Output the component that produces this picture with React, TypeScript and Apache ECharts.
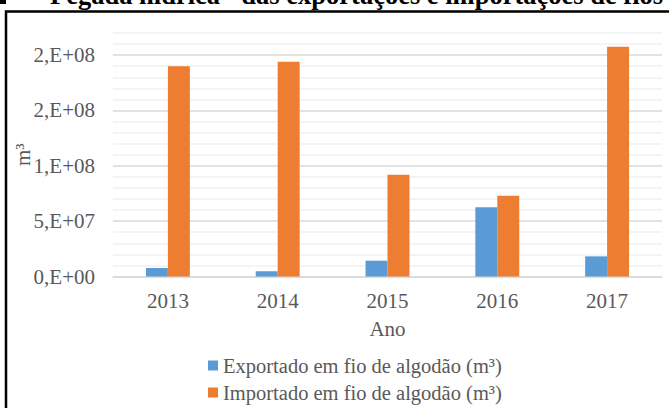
import React, { useEffect, useRef } from "react";
import * as echarts from "echarts";

const years = ["2013", "2014", "2015", "2016", "2017"];
const exportado = [7.7e6, 4.7e6, 14.3e6, 62.5e6, 18.2e6];
const importado = [190e6, 194e6, 92e6, 73e6, 207.5e6];
const seriesNames = ["Exportado em fio de algodão (m³)", "Importado em fio de algodão (m³)"];
const titleText = "Pegada hídrica\" das exportações e importações de fios";

const FONT = "'Liberation Serif', 'Times New Roman', serif";
const TXT = "#595959";

function fmtSci(v: number): string {
  if (v === 0) return "0,E+00";
  let e = Math.floor(Math.log10(v));
  let m = Math.round(v / Math.pow(10, e));
  if (m >= 10) {
    m = 1;
    e += 1;
  }
  return `${m},E+${String(e).padStart(2, "0")}`;
}

const legendBase = {
  orient: "horizontal",
  left: 203,
  itemWidth: 10,
  itemHeight: 10,
  icon: "rect",
  textStyle: { fontFamily: FONT, fontSize: 20.5, color: TXT },
};

export default function App() {
  const ref = useRef<HTMLDivElement>(null);
  useEffect(() => {
    document.body.style.margin = "0";
    const chart = echarts.init(ref.current!, null, { renderer: "svg" });
    chart.setOption({
      animation: false,
      backgroundColor: "#ffffff",
      grid: { left: 113, right: 7, top: 33, bottom: 131.5, containLabel: false },
      legend: [
        { ...legendBase, top: 350, data: [seriesNames[0]] },
        { ...legendBase, top: 377, data: [seriesNames[1]] },
      ],
      xAxis: {
        type: "category",
        data: years,
        name: "Ano",
        nameLocation: "middle",
        nameGap: 42,
        nameMoveOverlap: false,
        nameTextStyle: { fontFamily: FONT, fontSize: 21, color: TXT },
        axisLine: { show: true, lineStyle: { color: "#d9d9d9", width: 1.5 } },
        axisTick: { show: false },
        axisLabel: { fontFamily: FONT, fontSize: 21, color: TXT, margin: 14 },
        splitLine: { show: false },
      },
      yAxis: {
        type: "value",
        min: 0,
        max: 2.2e8,
        interval: 1e7,
        name: "m³",
        nameLocation: "middle",
        nameGap: 80,
        nameRotate: 90,
        nameMoveOverlap: false,
        nameTextStyle: { fontFamily: FONT, fontSize: 21, color: TXT },
        axisLine: { show: false },
        axisTick: { show: false },
        axisLabel: {
          fontFamily: FONT,
          fontSize: 21,
          color: TXT,
          margin: 18,
          formatter: (v: number) => (Math.round(v) % 5e7 === 0 ? fmtSci(v) : ""),
        },
        splitLine: {
          show: true,
          lineStyle: {
            color: ["#d9d9d9", "#f0f0f0", "#f0f0f0", "#f0f0f0", "#f0f0f0"],
            width: 1.5,
          },
        },
      },
      series: [
        {
          name: seriesNames[0],
          type: "bar",
          data: exportado,
          itemStyle: { color: "#5b9bd5" },
          barGap: "0%",
          barCategoryGap: "60%",
        },
        {
          name: seriesNames[1],
          type: "bar",
          data: importado,
          itemStyle: { color: "#ed7d31" },
          barGap: "0%",
          barCategoryGap: "60%",
        },
      ],
      graphic: [
        {
          type: "text",
          x: 50,
          y: -5,
          style: {
            text: titleText,
            fontFamily: FONT,
            fontWeight: "bold",
            fontSize: 26.5,
            fill: "#000000",
            verticalAlign: "middle",
          },
        },
        { type: "rect", shape: { x: 0, y: 0, width: 6, height: 4 }, style: { fill: "#000000" } },
        {
          type: "rect",
          shape: { x: 6, y: 11.5, width: 800, height: 600 },
          style: { fill: "none", stroke: "#000000", lineWidth: 2.5 },
        },
      ],
    });
    return () => chart.dispose();
  }, []);
  return (
    <div
      ref={ref}
      style={{ position: "absolute", left: 0, top: 0, width: 669, height: 408 }}
    />
  );
}
